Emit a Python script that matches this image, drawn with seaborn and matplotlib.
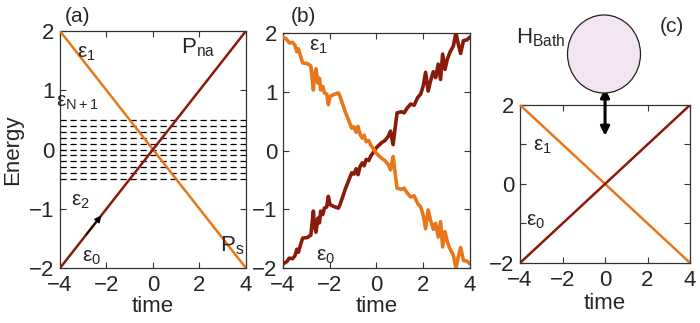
import matplotlib
matplotlib.use("Agg")
import matplotlib.pyplot as plt
from matplotlib.patches import Ellipse
import seaborn as sns
import pandas as pd

# ---------------- data ----------------
time_lin = [-4, 4]
e1_lin = [2, -2]
e0_lin = [-2, 2]
bath_levels = [-0.5, -0.4, -0.3, -0.2, -0.1, 0.0, 0.1, 0.2, 0.3, 0.4, 0.5]

t_b = [-4.00, -3.84, -3.73, -3.59, -3.49, -3.41, -3.34, -3.24, -3.16, -2.96,
       -2.81, -2.70, -2.66, -2.59, -2.51, -2.44, -2.39, -2.30, -2.23, -2.13,
       -2.06, -1.99, -1.84, -1.63, -1.56, -1.44, -1.34, -1.20, -1.06, -0.96,
       -0.87, -0.79, -0.70, -0.61, -0.53, -0.44, -0.33, -0.24, -0.13, 0.00,
       0.21, 0.36, 0.50, 0.60, 0.71, 0.78, 0.88, 1.07, 1.18, 1.31,
       1.46, 1.61, 1.76, 1.89, 2.00, 2.10, 2.21, 2.31, 2.43, 2.53,
       2.64, 2.74, 2.83, 2.93, 3.03, 3.14, 3.29, 3.40, 3.50, 3.60,
       3.72, 3.86, 4.00]
e1_b = [1.93, 1.89, 1.83, 1.84, 1.79, 1.68, 1.73, 1.59, 1.49, 1.48,
        1.44, 1.03, 1.26, 1.39, 1.15, 1.23, 1.03, 1.09, 0.98, 0.96,
        0.78, 0.92, 0.95, 0.98, 0.92, 0.78, 0.66, 0.52, 0.38, 0.40,
        0.31, 0.41, 0.27, 0.21, 0.26, 0.15, 0.17, 0.09, 0.03, -0.05,
        -0.13, -0.17, -0.24, -0.33, -0.10, -0.33, -0.64, -0.66, -0.64, -0.72,
        -0.79, -0.77, -0.90, -0.96, -1.10, -1.33, -1.01, -1.18, -1.34, -1.24,
        -1.47, -1.21, -1.64, -1.38, -1.55, -1.67, -1.78, -2.00, -1.81, -1.65,
        -1.87, -1.88, -1.93]
e0_b = [-1.93, -1.89, -1.83, -1.84, -1.79, -1.68, -1.73, -1.59, -1.49, -1.48,
        -1.44, -1.03, -1.26, -1.39, -1.15, -1.23, -1.03, -1.09, -0.98, -0.96,
        -0.78, -0.92, -0.95, -0.98, -0.92, -0.78, -0.66, -0.52, -0.38, -0.40,
        -0.31, -0.41, -0.27, -0.21, -0.26, -0.15, -0.17, -0.09, -0.03, 0.05,
        0.13, 0.17, 0.24, 0.33, 0.10, 0.33, 0.64, 0.66, 0.64, 0.72,
        0.79, 0.77, 0.90, 0.96, 1.10, 1.33, 1.01, 1.18, 1.34, 1.24,
        1.47, 1.21, 1.64, 1.38, 1.55, 1.67, 1.78, 2.00, 1.81, 1.65,
        1.87, 1.88, 1.93]

xticks = [-4, -2, 0, 2, 4]
yticks = [-2, -1, 0, 1, 2]

ORANGE = "#E8771A"
DARKRED = "#8A1B0B"

# ---------------- style ----------------
sns.set_style("ticks")
plt.rcParams["font.family"] = ["Liberation Sans", "DejaVu Sans"]
plt.rcParams["mathtext.fontset"] = "custom"
plt.rcParams["mathtext.rm"] = "Liberation Sans"
plt.rcParams["mathtext.it"] = "Liberation Sans"
plt.rcParams["axes.unicode_minus"] = True

fig = plt.figure(figsize=(7.0, 3.23), dpi=100)

ax_a = fig.add_axes([0.0857, 0.170, 0.2657, 0.734])
ax_b = fig.add_axes([0.4043, 0.170, 0.2671, 0.728])
ax_c = fig.add_axes([0.7429, 0.186, 0.2429, 0.489])

FS = 16


def style_axes(ax, ylabels=None, xpad=0):
    ax.set_xlim(-4, 4)
    ax.set_ylim(-2, 2)
    ax.set_xticks(xticks)
    ax.set_xticklabels([str(v).replace("-", "\u2212") for v in xticks])
    ax.set_yticks(yticks)
    if ylabels is None:
        ylabels = [str(v).replace("-", "\u2212") for v in yticks]
    ax.set_yticklabels(ylabels)
    ax.tick_params(direction="in", top=True, right=True, length=4, width=0.8,
                   labelsize=FS, color="#333333")
    ax.tick_params(axis="x", pad=5)
    ax.tick_params(axis="y", pad=4)
    for s in ax.spines.values():
        s.set_linewidth(0.9)
        s.set_color("#333333")
    ax.set_xlabel("time", fontsize=FS, labelpad=xpad)
    ax.set_ylabel("")


def eps(ax, x, y, sub, fs=15):
    ax.text(x, y, r"$\mathregular{ε_{%s}}$" % sub, fontsize=fs,
            ha="center", va="center")


# ---------------- panel (a) ----------------
for lev in bath_levels:
    ax_a.axhline(lev, color="black", lw=0.9, dashes=(5, 3), zorder=1)
sns.lineplot(x=time_lin, y=e1_lin, ax=ax_a, color=ORANGE, lw=1.8, zorder=3)
sns.lineplot(x=time_lin, y=e0_lin, ax=ax_a, color=DARKRED, lw=1.8, zorder=3)
ax_a.annotate("", xy=(-2.15, -1.075), xytext=(-2.95, -1.475),
              arrowprops=dict(arrowstyle="-|>", color="black", lw=1.0,
                              mutation_scale=10), zorder=4)
style_axes(ax_a)
ax_a.set_ylabel("Energy", fontsize=FS, labelpad=4)
eps(ax_a, -2.85, 1.62, "1")
ax_a.text(1.95, 1.72, r"$\mathregular{P_{na}}$", fontsize=16, ha="center", va="center")
eps(ax_a, -3.25, 0.80, "N+1")
eps(ax_a, -3.1, -0.88, "2")
eps(ax_a, -2.65, -1.82, "0")
ax_a.text(3.4, -1.62, r"$\mathregular{P_s}$", fontsize=16, ha="center", va="center")
fig.text(78 / 700, 1 - 16 / 323, "(a)", fontsize=15, ha="center", va="center")

# ---------------- panel (b) ----------------
dfb = pd.DataFrame({"time": t_b, "e1": e1_b, "e0": e0_b})
sns.lineplot(data=dfb, x="time", y="e0", ax=ax_b, color=DARKRED, lw=2.6,
             estimator=None, sort=False, zorder=3)
sns.lineplot(data=dfb, x="time", y="e1", ax=ax_b, color=ORANGE, lw=2.6,
             estimator=None, sort=False, zorder=3)
style_axes(ax_b)
eps(ax_b, -2.5, 1.77, "1")
eps(ax_b, -2.2, -1.8, "0")
fig.text(303 / 700, 1 - 16 / 323, "(b)", fontsize=15, ha="center", va="center")

# ---------------- panel (c) ----------------
sns.lineplot(x=time_lin, y=e1_lin, ax=ax_c, color=ORANGE, lw=1.8, zorder=3)
sns.lineplot(x=time_lin, y=e0_lin, ax=ax_c, color=DARKRED, lw=1.8, zorder=3)
style_axes(ax_c, ylabels=["\u22122", "", "0", "", "2"], xpad=1.5)
eps(ax_c, -2.95, 0.95, "1")
eps(ax_c, -3.25, -0.95, "0")
ax_c.annotate("", xy=(0, 1.22), xytext=(0, 2.42),
              arrowprops=dict(arrowstyle="<|-|>", color="black", lw=2.2,
                              mutation_scale=13, shrinkA=0, shrinkB=0),
              annotation_clip=False, zorder=6)
fig.add_artist(Ellipse((604 / 700, 1 - 54 / 323), 73 / 700, 78 / 323,
                       transform=fig.transFigure, facecolor="#F3E5F1",
                       edgecolor="#222222", lw=0.9))
fig.text(541 / 700, 1 - 38 / 323, r"$\mathregular{H_{Bath}}$", fontsize=16,
         ha="center", va="center")
fig.text(672 / 700, 1 - 27 / 323, "(c)", fontsize=15, ha="center", va="center")

fig.savefig("out.png", dpi=100)
